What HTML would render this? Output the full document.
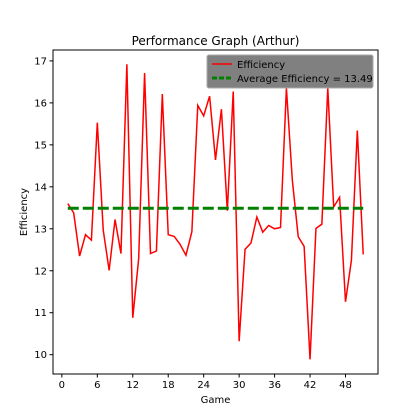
<!DOCTYPE html>
<html><head><meta charset="utf-8"><style>body{margin:0;background:#fff}svg{display:block;font-family:"DejaVu Sans","Liberation Sans",sans-serif}</style></head>
<body>
<svg id="c" width="420" height="420">
<rect width="420" height="420" fill="#fff"/>
<text x="215.5" y="45" font-size="12" text-anchor="middle">Performance Graph (Arthur)</text>
<text x="215.5" y="403" font-size="10" text-anchor="middle">Game</text>
<text x="0" y="0" font-size="10" text-anchor="middle" transform="translate(27,212) rotate(-90)">Efficiency</text>
<g id="ticks"></g>
<g id="series"></g>
<rect x="53" y="50" width="325" height="324" fill="none" stroke="#000" stroke-width="1"/>
<g>
<rect x="207" y="55" width="166" height="33" rx="2" fill="#808080" stroke="#aaa" stroke-width="1"/>
<line x1="212" y1="64" x2="232" y2="64" stroke="red" stroke-width="1.5"/>
<text x="237" y="68" font-size="10">Efficiency</text>
<line x1="212" y1="78" x2="232" y2="78" stroke="green" stroke-width="3" stroke-dasharray="5,2"/>
<text x="237" y="82" font-size="10">Average Efficiency = 13.49</text>
</g>
</svg>
<script>
const games = [];
for (let i = 1; i <= 51; i++) games.push(i);
const efficiency = [13.60,13.38,12.35,12.86,12.73,15.53,12.97,12.01,13.22,12.41,16.92,10.88,12.29,16.71,12.41,12.47,16.21,12.86,12.82,12.63,12.37,12.93,15.94,15.69,16.16,14.64,15.85,13.43,16.27,10.32,12.51,12.66,13.28,12.92,13.08,13.00,13.03,16.35,14.16,12.81,12.58,9.89,13.01,13.11,16.35,13.52,13.75,11.26,12.25,15.34,12.39];
const average = [13.49];
const xTicks = [0,6,12,18,24,30,36,42,48];
const yTicks = [10,11,12,13,14,15,16,17];
const NS = "http://www.w3.org/2000/svg";
const L=53,R=378,T=50,B=374, xmin=-1.5,xmax=53.5, ymin=9.54,ymax=17.26;
const sx = v => L + (v - xmin) / (xmax - xmin) * (R - L);
const sy = v => B - (v - ymin) / (ymax - ymin) * (B - T);
function mk(tag, attrs, parent){const e=document.createElementNS(NS,tag);for(const k in attrs)e.setAttribute(k,attrs[k]);parent.appendChild(e);return e;}
const tg = document.getElementById('ticks');
xTicks.forEach(t=>{
  const l=mk('line',{x1:sx(t),x2:sx(t),y1:B,y2:B+3.5,stroke:'#000'},tg);
  
  
  const tx=mk('text',{x:sx(t),y:B+14,'font-size':10,'text-anchor':'middle'},tg);tx.textContent=t;
  
  
});
yTicks.forEach(t=>{
  const l=mk('line',{x1:L-3.5,x2:L,y1:sy(t),y2:sy(t),stroke:'#000'},tg);
  
  
  const tx=mk('text',{x:L-6,y:sy(t)+3.5,'font-size':10,'text-anchor':'end'},tg);tx.textContent=t;
  
  
});
const sg = document.getElementById('series');
const p = mk('polyline',{points:games.map((g,i)=>sx(g)+','+sy(efficiency[i])).join(' '),fill:'none',stroke:'red','stroke-width':1.5},sg);


const a = mk('line',{x1:sx(games[0]),x2:sx(games[games.length-1]),y1:sy(average[0]),y2:sy(average[0]),stroke:'green','stroke-width':3,'stroke-dasharray':'11,4'},sg);


</script>
</body></html>
